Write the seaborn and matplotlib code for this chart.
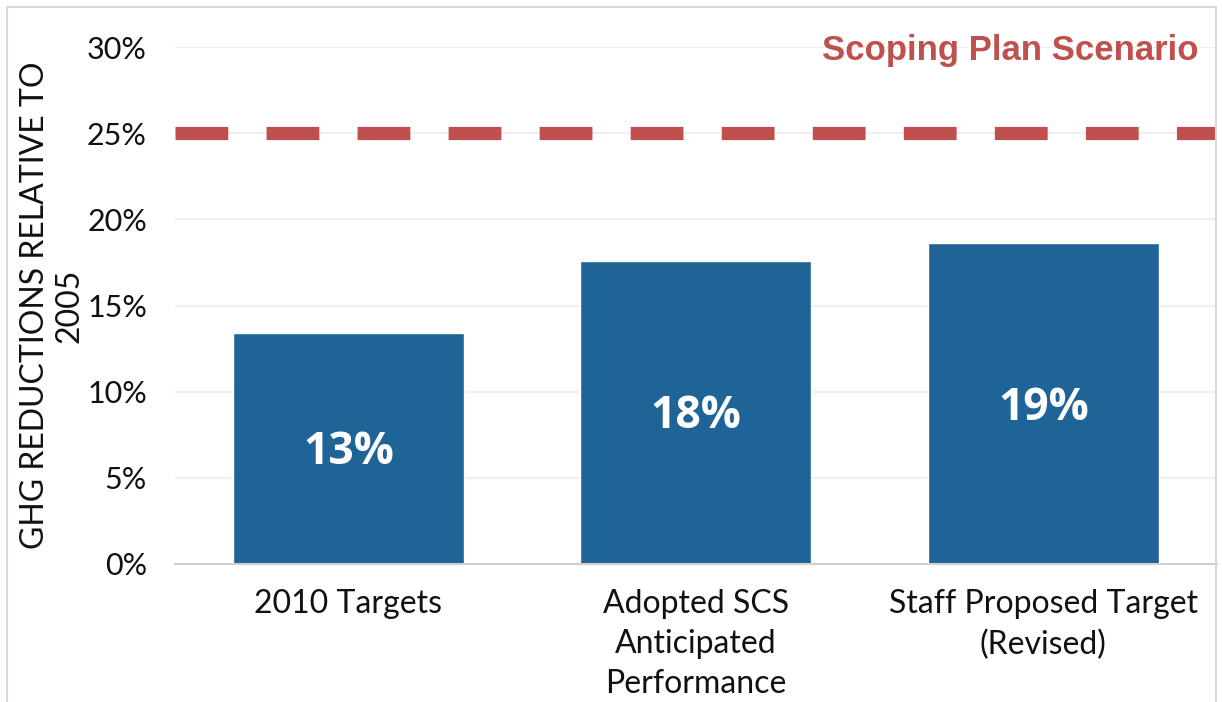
import matplotlib
matplotlib.use("Agg")
import matplotlib.pyplot as plt
import matplotlib.patches as mpatches
import numpy as np
import pandas as pd
import seaborn as sns

# data
categories = ["2010 Targets", "Adopted SCS\nAnticipated\nPerformance",
              "Staff Proposed Target\n(Revised)"]
reductions = [13.4, 17.6, 18.6]
bar_labels = ["13%", "18%", "19%"]
scoping_plan = 25.0
yticks = [0, 5, 10, 15, 20, 25, 30]

BAR_COLOR = "#1F6496"
RED = "#C0504D"

sns.set_theme(style="white")
plt.rcParams['font.family'] = ['Lato', 'DejaVu Sans']

df = pd.DataFrame({"cat": categories, "val": reductions})

fig = plt.figure(figsize=(12.22, 7.02), dpi=100)
ax = fig.add_axes([0.143, 0.1966, 0.853, 0.7364])

sns.barplot(data=df, x="cat", y="val", color=BAR_COLOR, saturation=1,
            width=0.665, ax=ax, zorder=3)

ax.set_ylim(0, 30)
ax.set_yticks(yticks)
ax.set_yticklabels([f"{t}%" for t in yticks], fontsize=22, color="#111111")
ax.yaxis.grid(True, color="#EFEFEF", linewidth=1.5, zorder=0)
ax.tick_params(axis="both", length=0, pad=20)
ax.tick_params(axis="x", pad=18)
for lbl in ax.get_xticklabels():
    lbl.set_fontsize(23)
    lbl.set_color("#111111")
    lbl.set_linespacing(1.42)
for s in ["top", "right", "left"]:
    ax.spines[s].set_visible(False)
ax.spines["bottom"].set_color("#D0D0D0")
ax.spines["bottom"].set_linewidth(1.5)
ax.spines["bottom"].set_zorder(4)

ax.set_xlabel("")
ax.set_ylabel("GHG REDUCTIONS RELATIVE TO\n2005", fontsize=23, color="#111111",
              linespacing=1.2, labelpad=2)

# scoping plan dashed line
ax.axhline(scoping_plan, color=RED, linewidth=9.5, dashes=(4.0, 2.9),
           dash_capstyle="butt", zorder=5)
ax.text(0.982, 0.975, "Scoping Plan Scenario", transform=ax.transAxes,
        ha="right", va="baseline", fontsize=25, fontweight="bold", color=RED,
        family="Liberation Sans")

# value labels inside bars, centred
for i, (v, t) in enumerate(zip(reductions, bar_labels)):
    ax.text(i, v / 2 - 0.25, t, ha="center", va="center",
            fontsize=32, fontweight="bold", color="white",
            family=["Open Sans", "DejaVu Sans"], zorder=6)

# light frame around figure
fig.patches.append(mpatches.Rectangle((7 / 1222, -0.05), 1209 / 1222, 1.05 - 7 / 702,
                                      transform=fig.transFigure, fill=False,
                                      edgecolor="#D9D9D9", linewidth=1.5))

fig.savefig("out.png", dpi=100)
